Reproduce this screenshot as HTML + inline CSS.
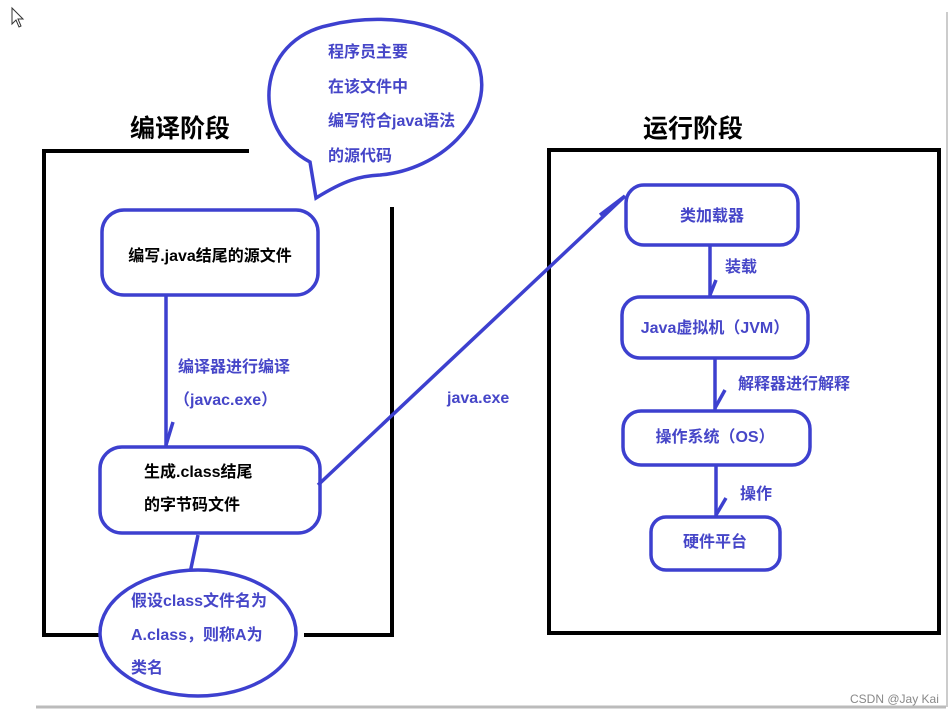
<!DOCTYPE html>
<html><head><meta charset="utf-8"><style>
body{margin:0;background:#fff;}
svg{display:block;font-family:"Liberation Sans","Noto Sans CJK SC",sans-serif;font-weight:bold;}
</style></head><body>
<svg width="952" height="715" viewBox="0 0 952 715">
<rect x="36" y="12" width="910" height="694" fill="#fff"/>
<line x1="36" y1="707" x2="946" y2="707" stroke="#bbb" stroke-width="3"/>
<line x1="947" y1="12" x2="947" y2="707" stroke="#ccc" stroke-width="2"/>
<path d="M12 8 L12 24 L16 20 L19 27 L21 26 L18 19 L23 19 Z" fill="#fff" stroke="#333" stroke-width="1"/>
<g stroke="#000" stroke-width="4" fill="none">
<path d="M249 151 H44 V635 H100"/>
<path d="M304 635 H392 V207"/>
<rect x="549" y="150" width="390" height="483"/>
</g>
<text x="180" y="137" font-size="25" text-anchor="middle" fill="#000">编译阶段</text>
<text x="693" y="137" font-size="25" text-anchor="middle" fill="#000">运行阶段</text>
<g stroke="#3d40cf" stroke-width="3.5" fill="#fff">
<path d="M310 162 C250 130 255 40 330 25 C390 10 470 25 480 70 C492 120 440 170 380 175 C360 176 345 180 316 198 Z"/>
<rect x="102" y="210" width="216" height="85" rx="22"/>
<rect x="100" y="447" width="220" height="86" rx="22"/>
<line x1="166" y1="295" x2="166" y2="447"/>
<line x1="166" y1="445" x2="173" y2="422"/>
<line x1="198" y1="535" x2="190" y2="573"/>
<ellipse cx="198" cy="633" rx="98" ry="63"/>
<line x1="318" y1="485" x2="625" y2="196"/>
<line x1="625" y1="196" x2="600" y2="215"/>
<rect x="626" y="185" width="172" height="60" rx="18"/>
<line x1="710" y1="245" x2="710" y2="297"/>
<line x1="710" y1="295" x2="716" y2="280"/>
<rect x="622" y="297" width="186" height="61" rx="18"/>
<line x1="715" y1="358" x2="715" y2="410"/>
<line x1="715" y1="408" x2="725" y2="390"/>
<rect x="623" y="411" width="187" height="54" rx="18"/>
<line x1="716" y1="465" x2="716" y2="517"/>
<line x1="716" y1="515" x2="726" y2="498"/>
<rect x="651" y="517" width="129" height="53" rx="15"/>
</g>
<g fill="#4646c8" font-size="16">
<text x="328" y="57">程序员主要</text>
<text x="328" y="92">在该文件中</text>
<text x="328" y="126">编写符合java语法</text>
<text x="328" y="161">的源代码</text>
<text x="178" y="372">编译器进行编译</text>
<text x="174" y="405">（javac.exe）</text>
<text x="447" y="403">java.exe</text>
<text x="131" y="606">假设class文件名为</text>
<text x="131" y="640">A.class，则称A为</text>
<text x="131" y="673">类名</text>
<text x="712" y="221" text-anchor="middle">类加载器</text>
<text x="725" y="272">装载</text>
<text x="715" y="333" text-anchor="middle">Java虚拟机（JVM）</text>
<text x="738" y="389">解释器进行解释</text>
<text x="715" y="442" text-anchor="middle">操作系统（OS）</text>
<text x="740" y="499">操作</text>
<text x="715" y="547" text-anchor="middle">硬件平台</text>
</g>
<g fill="#000" font-size="16">
<text x="210" y="261" text-anchor="middle">编写.java结尾的源文件</text>
<text x="144" y="477">生成.class结尾</text>
<text x="144" y="510">的字节码文件</text>
</g>
<text x="850" y="703" font-size="12" font-weight="normal" fill="#888">CSDN @Jay Kai</text>
</svg>
</body></html>
